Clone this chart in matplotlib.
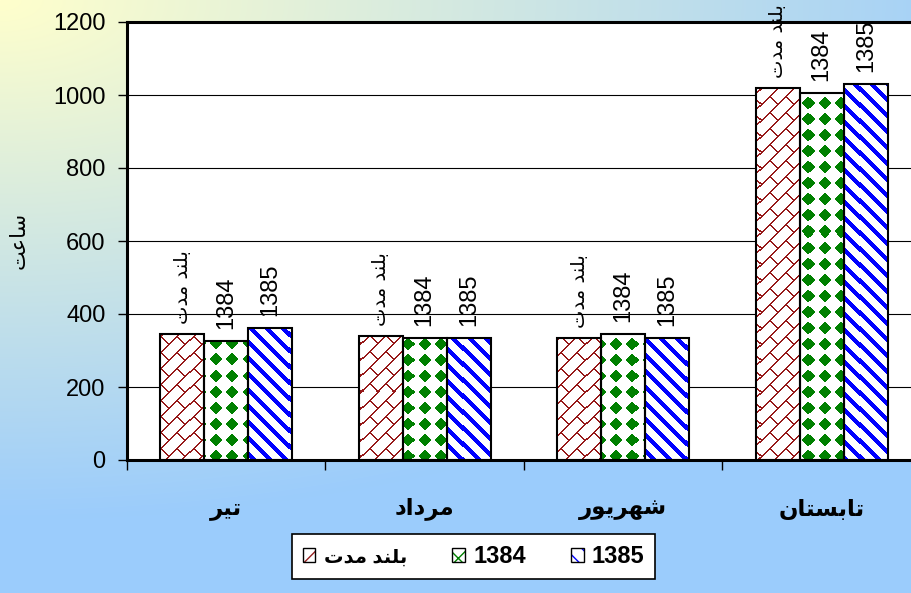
import numpy as np
import matplotlib
matplotlib.use("Agg")
import matplotlib.pyplot as plt
from matplotlib.patches import Rectangle
from matplotlib.legend_handler import HandlerTuple

# ---- data -------------------------------------------------------------
categories = ["تیر", "مرداد", "شهریور", "تابستان"]
series_names = ["بلند مدت", "1384", "1385"]
long_term = [345, 340, 333, 1019]
hours_1384 = [327, 333, 345, 1006]
hours_1385 = [361, 333, 333, 1029]
y_ticks = [0, 200, 400, 600, 800, 1000, 1200]
y_title = "ساعت"

# ---- minimal Persian shaping (contextual forms + visual order) --------
FORMS = {
    "ا": ("\uFE8D", "\uFE8E", None, None),
    "ب": ("\uFE8F", "\uFE90", "\uFE91", "\uFE92"),
    "ت": ("\uFE95", "\uFE96", "\uFE97", "\uFE98"),
    "د": ("\uFEA9", "\uFEAA", None, None),
    "ر": ("\uFEAD", "\uFEAE", None, None),
    "س": ("\uFEB1", "\uFEB2", "\uFEB3", "\uFEB4"),
    "ش": ("\uFEB5", "\uFEB6", "\uFEB7", "\uFEB8"),
    "ع": ("\uFEC9", "\uFECA", "\uFECB", "\uFECC"),
    "ل": ("\uFEDD", "\uFEDE", "\uFEDF", "\uFEE0"),
    "م": ("\uFEE1", "\uFEE2", "\uFEE3", "\uFEE4"),
    "ن": ("\uFEE5", "\uFEE6", "\uFEE7", "\uFEE8"),
    "ه": ("\uFEE9", "\uFEEA", "\uFEEB", "\uFEEC"),
    "و": ("\uFEED", "\uFEEE", None, None),
    "ی": ("\uFBFC", "\uFBFD", "\uFEF3", "\uFEF4"),
}


def shape(text):
    if not any(c in FORMS for c in text):
        return text
    chars = list(text)
    out = []
    for i, c in enumerate(chars):
        if c not in FORMS:
            out.append(c)
            continue
        iso, fin, ini, med = FORMS[c]
        prev_joins = i > 0 and chars[i - 1] in FORMS and FORMS[chars[i - 1]][2] is not None
        next_joins = ini is not None and i + 1 < len(chars) and chars[i + 1] in FORMS
        if prev_joins and next_joins:
            out.append(med)
        elif prev_joins:
            out.append(fin)
        elif next_joins:
            out.append(ini)
        else:
            out.append(iso)
    return "".join(reversed(out))


LATIN = ["Liberation Sans", "DejaVu Sans"]
ARABIC = ["DejaVu Sans"]

FIG_W, FIG_H = 912, 593
fig = plt.figure(figsize=(FIG_W / 100, FIG_H / 100), dpi=100)

# ---- background gradient (pale yellow corner fading to sky blue) ------
gy, gx = np.mgrid[0:FIG_H, 0:FIG_W]
t = np.clip(np.sqrt((gx / 1050.0) ** 2 + (gy / 520.0) ** 2), 0, 1)[..., None]
c_corner = np.array([255, 255, 204]) / 255.0
c_far = np.array([155, 204, 252]) / 255.0
bg = c_corner * (1 - t) + c_far * t
bg_ax = fig.add_axes([0, 0, 1, 1], zorder=0)
bg_ax.imshow(bg, aspect="auto", extent=(0, 1, 0, 1), interpolation="bilinear")
bg_ax.set_axis_off()

# ---- plot area ---------------------------------------------------------
AX_L, AX_T, AX_W, AX_H = 127, 22, 794, 438
ax = fig.add_axes([AX_L / FIG_W, 1 - (AX_T + AX_H) / FIG_H, AX_W / FIG_W, AX_H / FIG_H], zorder=1)
ax.set_facecolor("white")
ax.set_xlim(0, 4)
ax.set_ylim(0, 1200)
for sp in ax.spines.values():
    sp.set_linewidth(2.2)
    sp.set_color("black")

ax.set_yticks(y_ticks)
ax.set_yticklabels([str(v) for v in y_ticks], family=LATIN, fontsize=17)
ax.tick_params(axis="y", direction="out", length=6.5, width=1, pad=9, colors="black")
ax.yaxis.grid(True, color="black", linewidth=0.8)
ax.set_axisbelow(True)

ax.set_xticks([0, 1, 2, 3, 4])
ax.set_xticklabels([])
ax.tick_params(axis="x", which="major", direction="out", length=7.5, width=1)
ax.set_xticks([0.5, 1.5, 2.5, 3.5], minor=True)
ax.set_xticklabels([shape(c) for c in categories], minor=True,
                   family=ARABIC, fontweight="bold", fontsize=16.5)
ax.tick_params(axis="x", which="minor", length=0, pad=27)

# ---- fill patterns, aligned to figure pixels --------------------------
jj, ii = np.meshgrid(np.arange(AX_W), np.arange(AX_H))
PX = jj + AX_L
PY = ii + AX_T


def pattern(mask, rgb):
    img = np.ones((AX_H, AX_W, 3))
    img[mask] = np.array(rgb) / 255.0
    return img


s_diag = PX + PY
d_diag = PX - PY
brick_mask = ((s_diag % 16) < 2) | ((((d_diag - 16 * ((s_diag // 16) % 2)) % 32) < 2))
fx = (PX % 16) + 0.5 - 8
fy = (PY % 16) + 0.5 - 8
diamond_mask = (np.abs(fx) + np.abs(fy)) <= 6.6
stripe_mask = (d_diag % 16) < 6

patterns = [
    pattern(brick_mask, (150, 25, 25)),
    pattern(diamond_mask, (0, 128, 0)),
    pattern(stripe_mask, (0, 0, 255)),
]

# ---- bars --------------------------------------------------------------
x = np.arange(len(categories)) + 0.5
w = 1 / 4.5
offsets = [-w, 0, w]
all_series = [long_term, hours_1384, hours_1385]

for k, (vals, name) in enumerate(zip(all_series, series_names)):
    bars = ax.bar(x + offsets[k], vals, width=w, facecolor="none",
                  edgecolor="black", linewidth=1.5, zorder=3)
    for rect, v in zip(bars, vals):
        im = ax.imshow(patterns[k], extent=(0, 4, 0, 1200), origin="upper",
                       aspect="auto", interpolation="nearest", zorder=2)
        im.set_clip_path(rect)
        is_fa = any(c in FORMS for c in name)
        ax.annotate(shape(name), xy=(rect.get_x() + rect.get_width() / 2, v),
                    xytext=(0, 10 if is_fa else 12), textcoords="offset pixels",
                    rotation=90, ha="center", va="bottom",
                    family=ARABIC if is_fa else LATIN,
                    fontsize=14 if is_fa else 17, zorder=4)

ax.set_xlim(0, 4)
ax.set_ylim(0, 1200)

# ---- axis title ----------------------------------------------------------
fig.text(19 / FIG_W, 1 - 240 / FIG_H, shape(y_title), rotation=90,
         ha="center", va="center", family=ARABIC, fontsize=15)

# ---- legend --------------------------------------------------------------
hatch_colors = ["#962020", "#008000", "#0000ff"]
hatches = ["/", "xx", "\\\\"]
handles = []
for hc, h in zip(hatch_colors, hatches):
    handles.append((Rectangle((0, 0), 1, 1, facecolor="white", edgecolor=hc, hatch=h, lw=0),
                    Rectangle((0, 0), 1, 1, fill=False, edgecolor="black", lw=1.0)))
leg = fig.legend(handles, [shape(n) for n in series_names],
                 handler_map={tuple: HandlerTuple(ndivide=1)},
                 loc="center", bbox_to_anchor=(473.5 / FIG_W, 1 - 556.5 / FIG_H),
                 ncol=3, prop=dict(family=LATIN, weight="bold", size=17),
                 handlelength=0.55, handleheight=0.55, handletextpad=0.35,
                 columnspacing=1.9, borderpad=0.45, fancybox=False,
                 framealpha=1, edgecolor="black")
leg.get_frame().set_linewidth(1.2)
leg.texts[0].set_fontsize(14)

fig.savefig("out.png", dpi=100)
